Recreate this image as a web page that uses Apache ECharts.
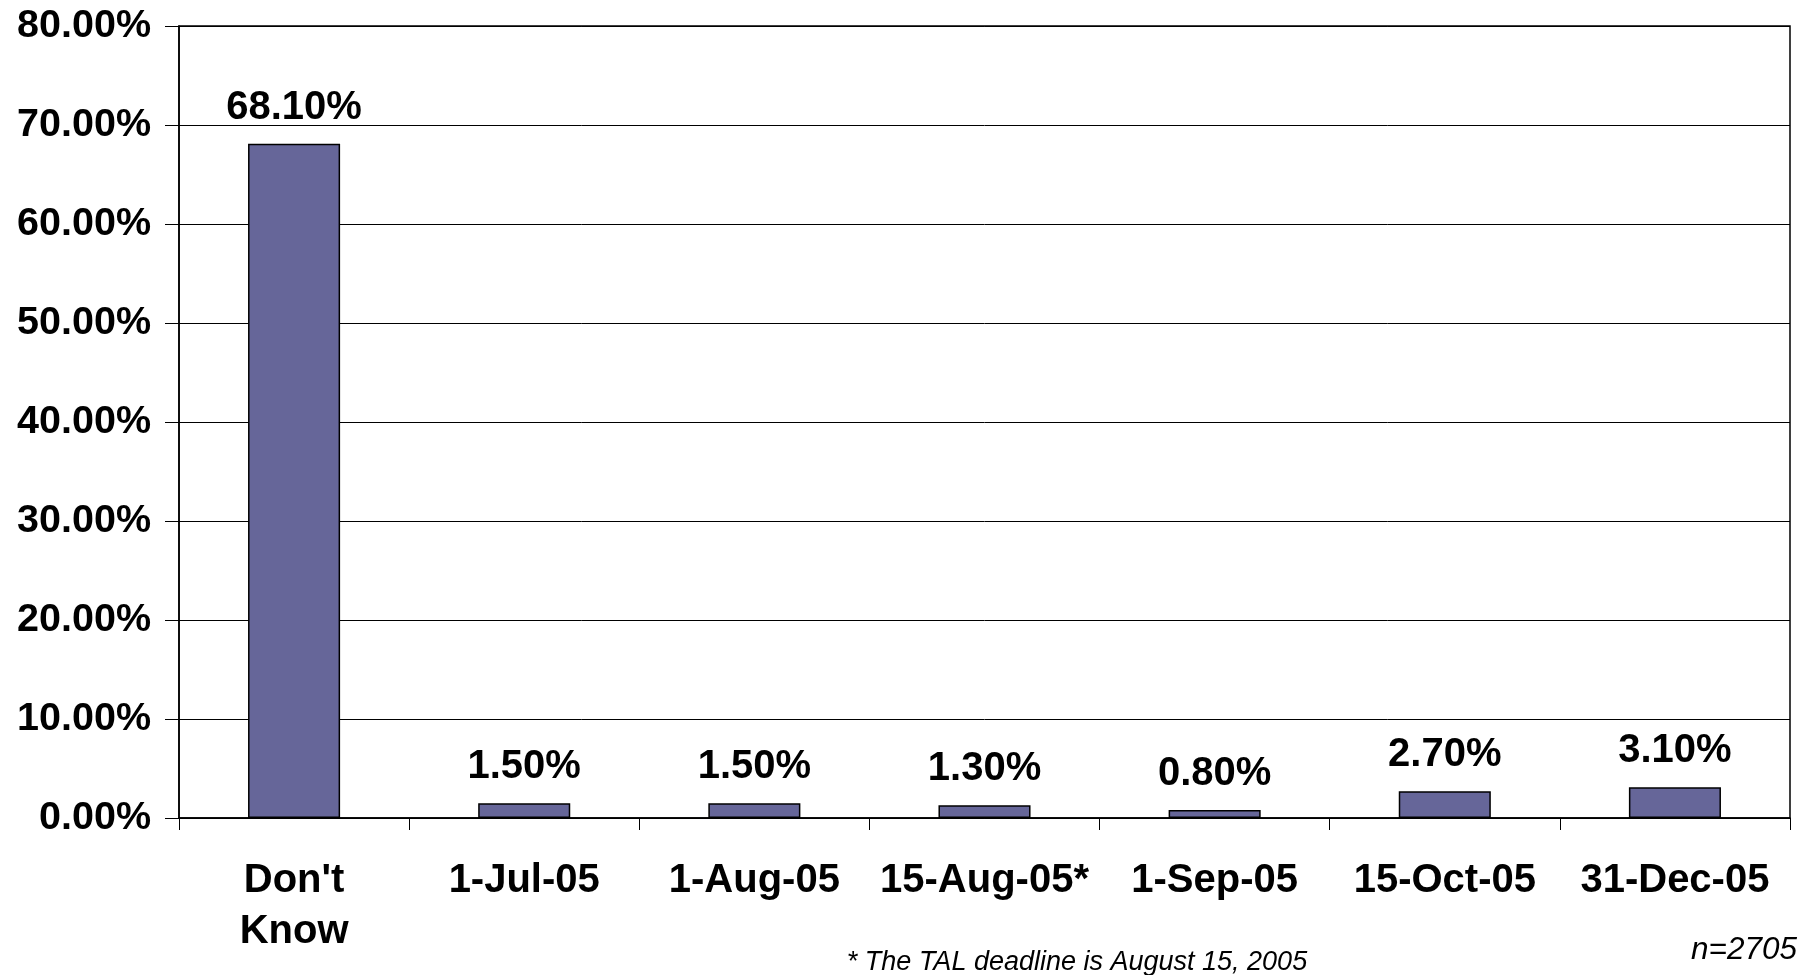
<!DOCTYPE html>
<html>
<head>
<meta charset="utf-8">
<style>
html,body{margin:0;padding:0;background:#fff;}
#chart{width:1808px;height:975px;}
</style>
<script src="https://cdn.jsdelivr.net/npm/echarts@6/dist/echarts.min.js"></script>
</head>
<body>
<div id="chart"></div>
<script>
const categories = ["Don't\nKnow", "1-Jul-05", "1-Aug-05", "15-Aug-05*", "1-Sep-05", "15-Oct-05", "31-Dec-05"];
const values = [68.1, 1.5, 1.5, 1.3, 0.8, 2.7, 3.1];
const yMin = 0, yMax = 80, yStep = 10;
const footnote = "* The TAL deadline is August 15, 2005";
const sampleNote = "n=2705";

const FONT = "'Liberation Sans', Arial, sans-serif";
const chart = echarts.init(document.getElementById('chart'), null, {renderer: 'canvas'});
chart.setOption({
  backgroundColor: '#ffffff',
  animation: false,
  grid: {left: 179, right: 18, top: 26, bottom: 157, show: true, borderColor: '#000', borderWidth: 1.5},
  xAxis: {
    type: 'category',
    data: categories,
    axisLine: {lineStyle: {color: '#000', width: 1.5}},
    axisTick: {show: true, length: 12, lineStyle: {color: '#000', width: 1}},
    axisLabel: {color: '#000', fontFamily: FONT, fontWeight: 'bold', fontSize: 40, lineHeight: 51, margin: 37, interval: 0}
  },
  yAxis: {
    type: 'value',
    min: yMin, max: yMax, interval: yStep,
    axisLine: {show: true, lineStyle: {color: '#000', width: 1.5}},
    axisTick: {show: true, length: 14, lineStyle: {color: '#000', width: 1}},
    splitLine: {show: true, lineStyle: {color: '#000', width: 1}},
    axisLabel: {color: '#000', fontFamily: FONT, fontWeight: 'bold', fontSize: 39.5, margin: 28,
      formatter: v => v.toFixed(2) + '%'}
  },
  series: [{
    type: 'bar',
    data: values,
    barWidth: '40%',
    itemStyle: {color: '#666699', borderColor: '#000', borderWidth: 1.5},
    label: {show: true, position: 'top', distance: 16, color: '#000', fontFamily: FONT, fontWeight: 'bold', fontSize: 40,
      formatter: p => p.value.toFixed(2) + '%'}
  }],
  graphic: [
    {type: 'text', x: 1077, y: 962, style: {text: footnote, fontFamily: FONT, fontStyle: 'italic', fontSize: 27, fill: '#000', align: 'center', verticalAlign: 'middle'}},
    {type: 'text', x: 1797, y: 950, style: {text: sampleNote, fontFamily: FONT, fontStyle: 'italic', fontSize: 31.5, fill: '#000', align: 'right', verticalAlign: 'middle'}}
  ]
});
</script>
</body>
</html>
